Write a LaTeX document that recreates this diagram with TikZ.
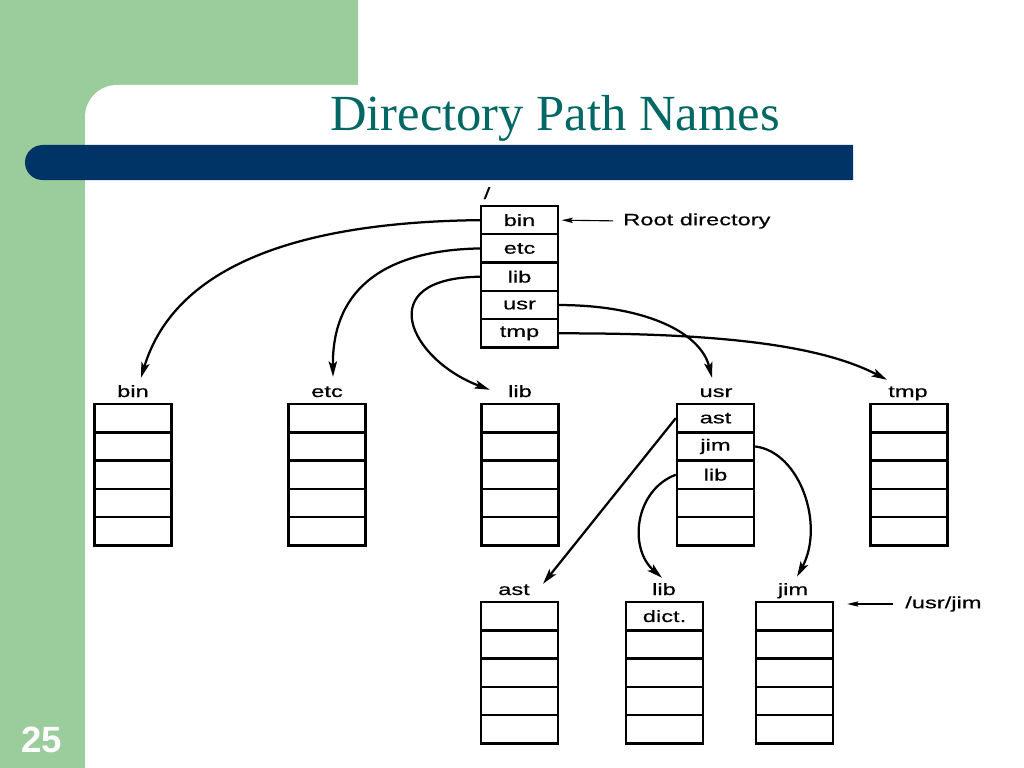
\documentclass[tikz,border=0pt]{standalone}
\usepackage{fontspec}
\setmainfont{Liberation Serif}
\newfontfamily\figfont[FakeStretch=1.45,FakeBold=0.5]{Liberation Sans}
\newfontfamily\numfont{Liberation Sans}
\usetikzlibrary{arrows.meta}

\definecolor{slidegreen}{RGB}{155,204,155}
\definecolor{barblue}{RGB}{0,51,102}
\definecolor{titleteal}{RGB}{0,104,100}

\newcommand\dirfont{\figfont\fontsize{11.6pt}{13pt}\selectfont}

\tikzset{
  entry/.style={draw, line width=1.7pt, minimum width=1.925cm, minimum height=0.7075cm, inner sep=0pt, font=\dirfont},
  dirname/.style={anchor=base, inner sep=0pt, text height=8.5pt, text depth=2.5pt, font=\dirfont},
  link/.style={line width=1.6pt, -{Stealth[length=11pt,width=6pt,inset=2.5pt]}},
  pointer/.style={line width=0.8pt, -{Stealth[length=8pt,width=3.8pt,inset=1.5pt]}},
}

% one directory: name, x centre, top y, five entries
\newcommand\dirbox[4]{%
  \foreach \ename [count=\rowno] in {#4}
    \node[entry] (#1-\rowno) at (#2, {#3+(\rowno-0.5)*28.3}) {\ename};
}

\begin{document}
\begin{tikzpicture}[x=0.025cm, y=-0.025cm]
    % slide background
    \useasboundingbox (0,0) rectangle (1024,768);
    \fill[white] (0,0) rectangle (1024,768);
    \fill[slidegreen] (0,0) rectangle (358,130);
    \fill[slidegreen] (0,0) rectangle (130,768);
    \fill[white, rounded corners=0.8cm] (85,85) rectangle (1100,850);
    \fill[barblue] (853,145) -- (42.5,145) arc[start angle=90, end angle=270, radius=0.4375cm] -- (853,180) -- cycle;
    \node[font=\fontsize{36pt}{40pt}\selectfont, text=titleteal, anchor=base] (title) at (555,131) {Directory Path Names};
    \node[font=\numfont\bfseries\fontsize{26pt}{28pt}\selectfont, text=white, anchor=base] (slideno) at (42,752) {25};

    % directories
    \dirbox{root}{519.5}{206}{bin,etc,lib,usr,tmp}
    \dirbox{bin}{133}{404}{{},{},{},{},{}}
    \dirbox{etc}{327}{404}{{},{},{},{},{}}
    \dirbox{lib}{520}{404}{{},{},{},{},{}}
    \dirbox{usr}{715.5}{404}{ast,jim,lib,{},{}}
    \dirbox{tmp}{909}{404}{{},{},{},{},{}}
    \dirbox{ast}{519.5}{602}{{},{},{},{},{}}
    \dirbox{ulib}{664.5}{602}{dict.,{},{},{},{}}
    \dirbox{jim}{794.5}{602}{{},{},{},{},{}}

    % names
    \node[dirname] (rootname) at (487,199) {/};
    \node[dirname] (binname) at (133,397) {bin};
    \node[dirname] (etcname) at (327,397) {etc};
    \node[dirname] (libname) at (520,397) {lib};
    \node[dirname] (usrname) at (716,397) {usr};
    \node[dirname] (tmpname) at (908,397) {tmp};
    \node[dirname] (astname) at (514,595) {ast};
    \node[dirname] (ulibname) at (664,595) {lib};
    \node[dirname] (jimname) at (793,595) {jim};
    \node[anchor=west, inner sep=0pt, font=\dirfont] (rootnote) at (623,221) {Root directory};
    \node[anchor=west, inner sep=0pt, font=\dirfont] (jimnote) at (905,604) {/usr/jim};

    % links
    \draw[link] (root-1.west) .. controls (300,222) and (175,265) .. ([shift={(8,-7)}]binname.north);
    \draw[link] (root-2.west) .. controls (390,250) and (332,285) .. ([shift={(6,-8)}]etcname.north);
    \draw[link] (root-3.west) .. controls (370,278) and (410,360) .. ([shift={(-18,-3)}]libname.west);
    \draw[link] (root-4.east) .. controls (640,305) and (700,330) .. ([shift={(-4,-7)}]usrname.north);
    \draw[link] (root-5.east) .. controls (720,333) and (820,345) .. ([shift={(-1,-5)}]tmpname.north west);
    \draw[link] (usr-1.west) -- ([shift={(13,1)}]astname.north east);
    \draw[link] (usr-3.west) .. controls (635,490) and (628,548) .. ([shift={(-2,-5)}]ulibname.north);
    \draw[link] (usr-2.east) .. controls (800,452) and (825,525) .. ([shift={(4,-6)}]jimname.north);
    \draw[pointer, shorten <=0.25cm, shorten >=0.06cm] (rootnote.west) -- (root-1.east);
    \draw[pointer, shorten <=0.3cm, shorten >=0.325cm] (jimnote.west) -- (jimnote.west -| jim-1.east);
\end{tikzpicture}
\end{document}
